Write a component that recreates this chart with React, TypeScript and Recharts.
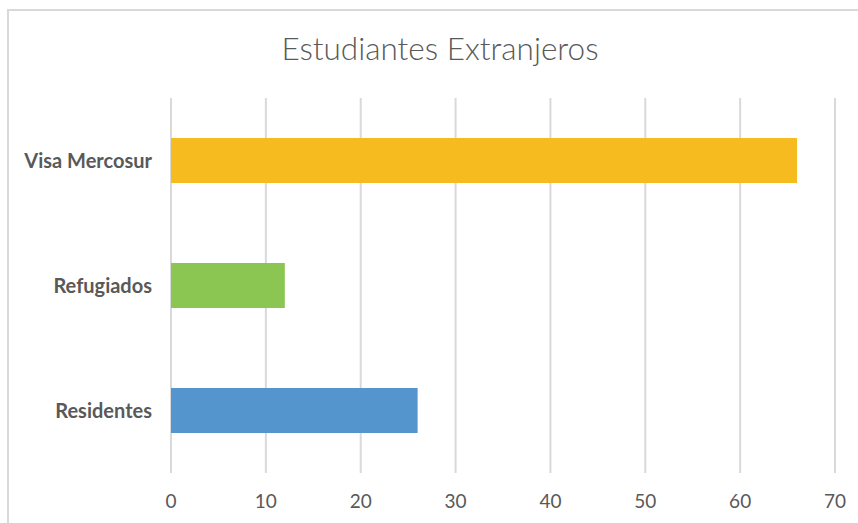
import { BarChart, Bar, XAxis, YAxis, CartesianGrid, Cell } from 'recharts'

const categories = ['Visa Mercosur', 'Refugiados', 'Residentes']
const values = [66, 12, 26]
const xTicks = [0, 10, 20, 30, 40, 50, 60, 70]

const COLORS = ['#F6BB1E', '#8BC653', '#5595CD']

const FONT = 'Lato, "Open Sans", sans-serif'

const data = categories.map((name, i) => ({ name, value: values[i] }))

export default function App() {
  return (
    <div
      style={{
        position: 'fixed',
        left: 0,
        top: 0,
        width: 858,
        height: 523,
        overflow: 'hidden',
        background: '#fff',
        fontFamily: FONT,
      }}
    >
      <div
        style={{
          position: 'absolute',
          left: 7,
          top: 9,
          width: 900,
          height: 600,
          border: '2px solid #d9d9d9',
          boxSizing: 'border-box',
        }}
      />
      <div
        style={{
          position: 'absolute',
          left: 0,
          top: 29,
          width: 880,
          textAlign: 'center',
          fontSize: 31.5,
          color: '#595959',
          fontWeight: 300,
        }}
      >
        Estudiantes Extranjeros
      </div>
      <div style={{ position: 'absolute', left: 0, top: 0 }}>
        <BarChart
          width={858}
          height={523}
          data={data}
          layout="vertical"
          margin={{ top: 98, right: 23, bottom: 0, left: 0 }}
        >
          <CartesianGrid horizontal={false} stroke="#d9d9d9" strokeWidth={2} />
          <XAxis
            type="number"
            domain={[0, 70]}
            ticks={xTicks}
            axisLine={false}
            tickLine={false}
            height={50}
            tickMargin={16}
            tick={{ fill: '#595959', fontSize: 19, fontFamily: FONT }}
          />
          <YAxis
            type="category"
            dataKey="name"
            width={171}
            axisLine={false}
            tickLine={false}
            tickMargin={13}
            tick={{ fill: '#595959', fontSize: 20, fontWeight: 700, fontFamily: FONT }}
          />
          <Bar dataKey="value" barSize={45} isAnimationActive={false}>
            {data.map((_, i) => (
              <Cell key={i} fill={COLORS[i]} />
            ))}
          </Bar>
        </BarChart>
      </div>
    </div>
  )
}
